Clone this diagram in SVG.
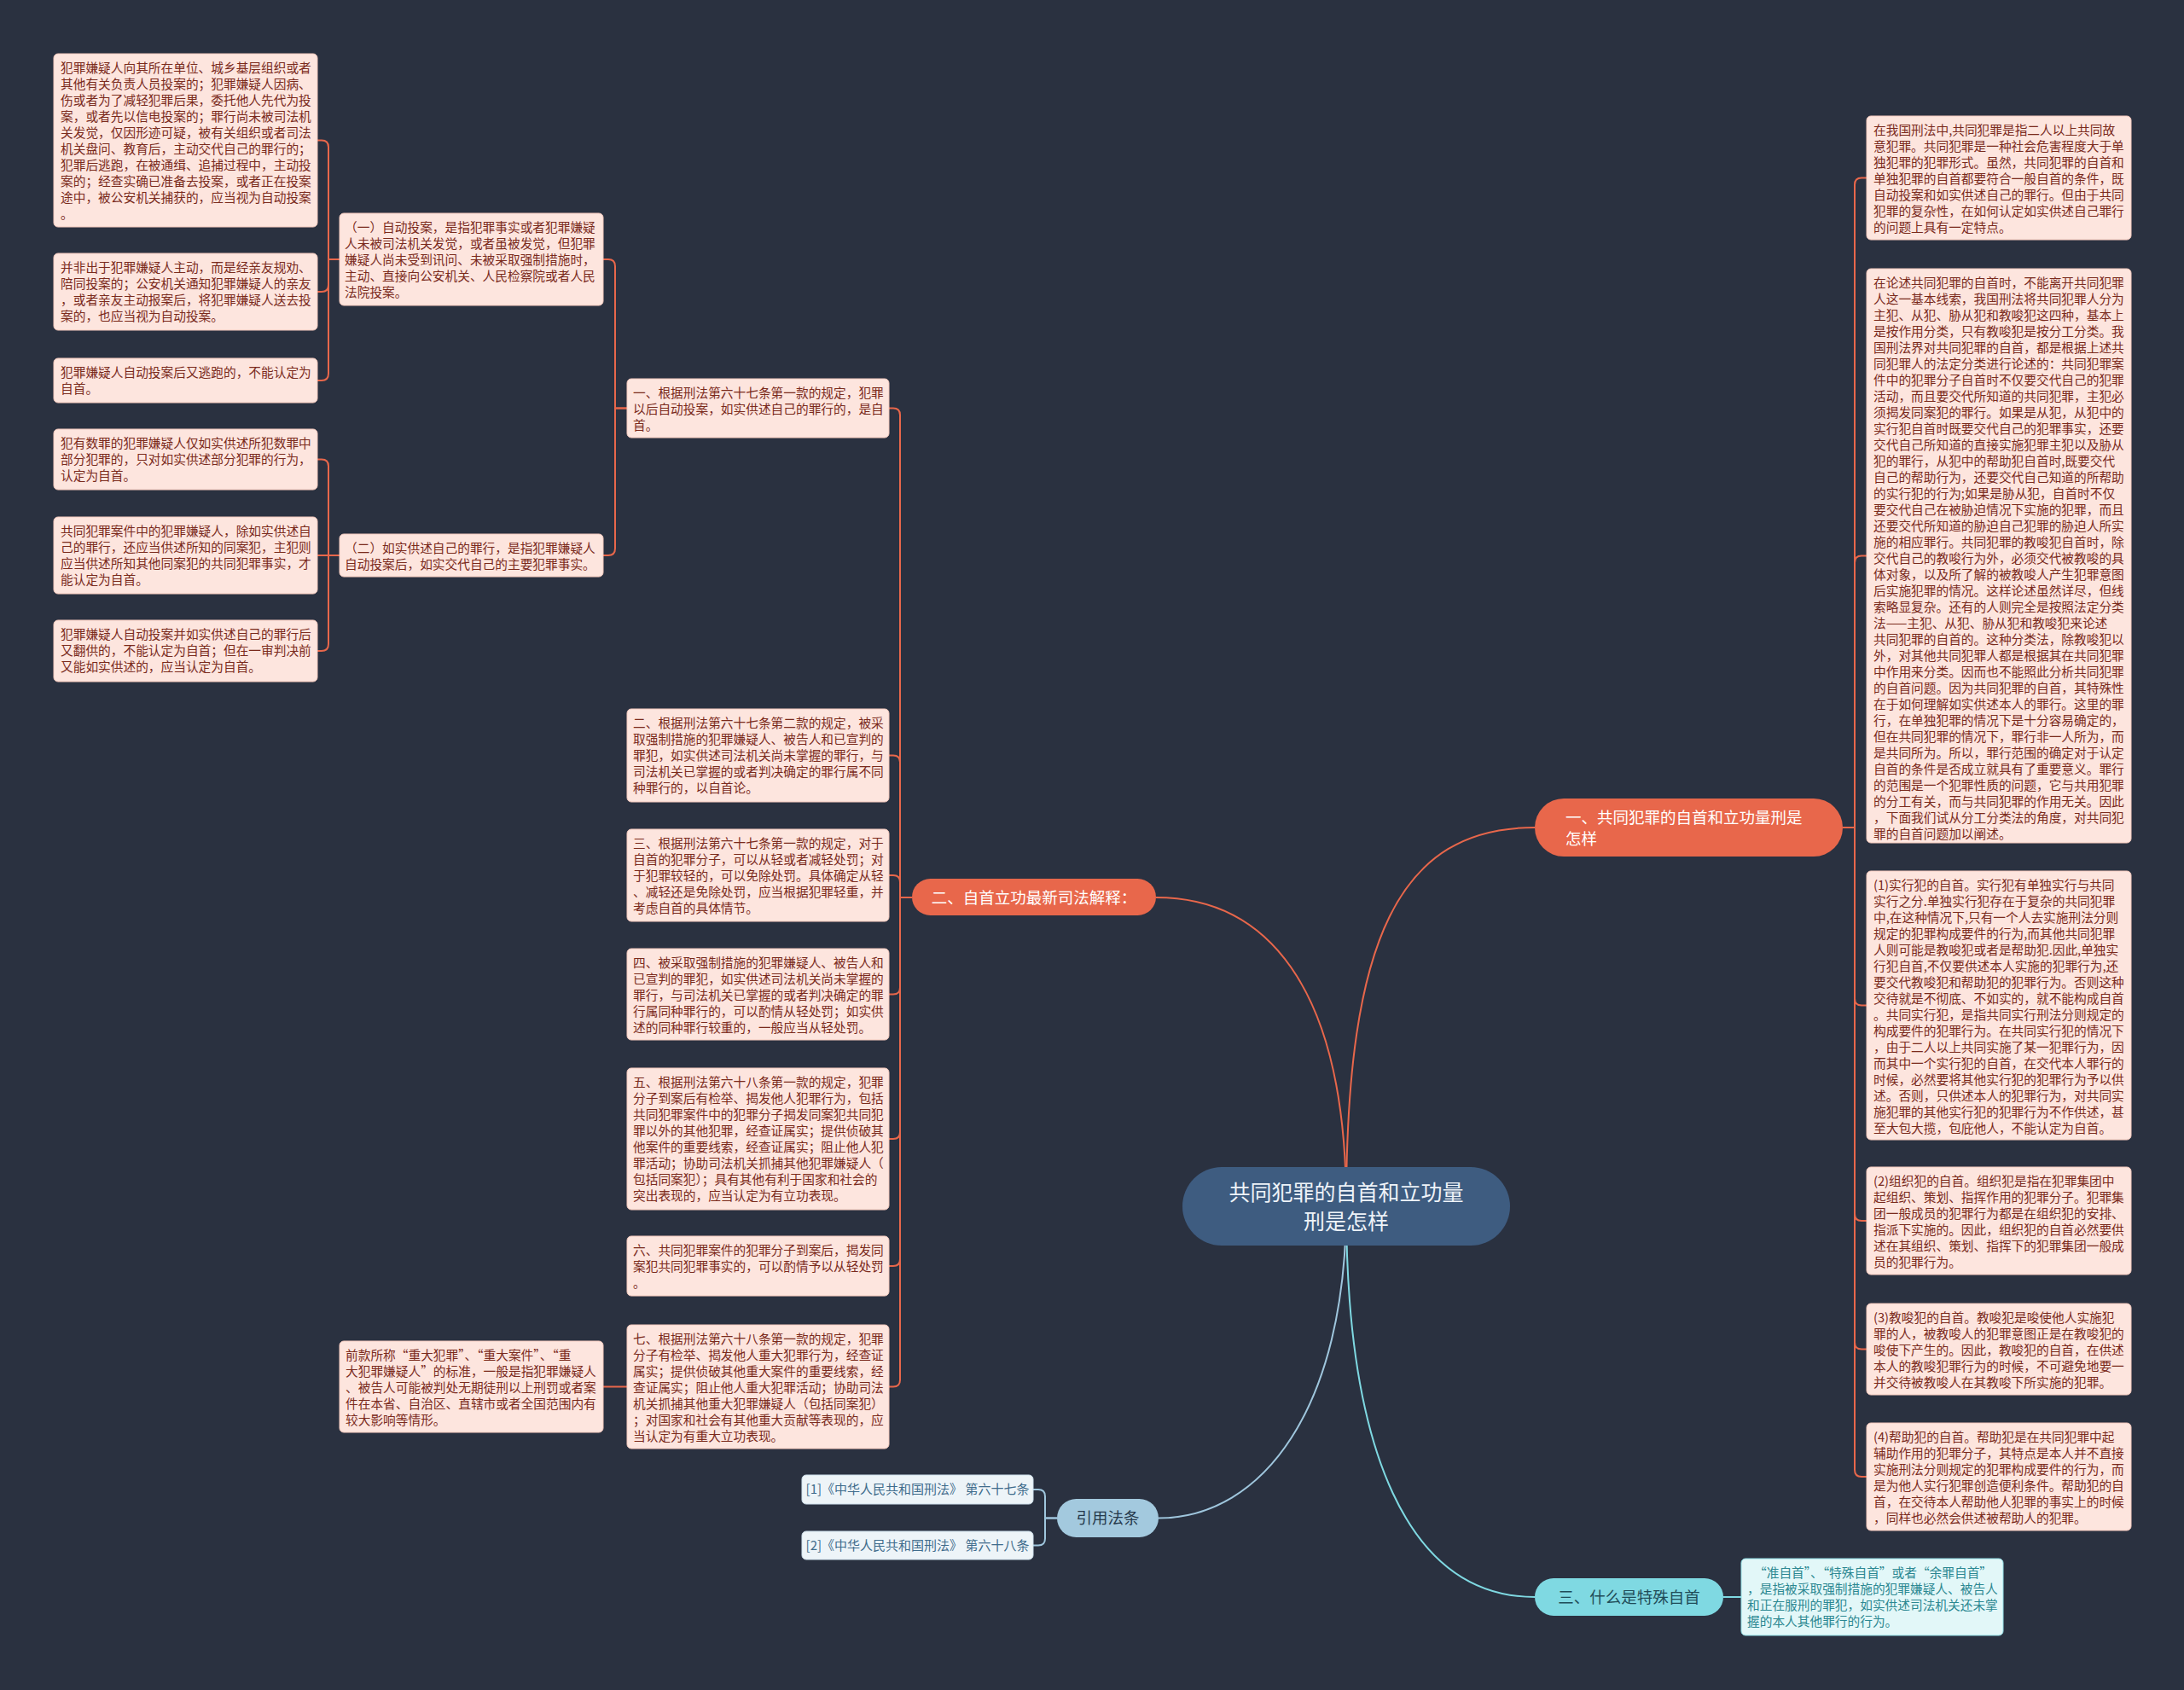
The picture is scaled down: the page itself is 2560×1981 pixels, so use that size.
<svg xmlns="http://www.w3.org/2000/svg" width="2560" height="1981" viewBox="0 0 2560 1981">
<style>
.bg{fill:#2a3140}
.leaf rect{fill:#fde5de;stroke:#f3c9bd;stroke-width:1}
.leaf text{font-family:"Noto Sans CJK SC","Liberation Sans",sans-serif;font-size:14.7px;fill:#7a2a1c}
.sp rect{fill:#e2f7f8;stroke:#8fdde4;stroke-width:1}
.sp text{font-family:"Noto Sans CJK SC","Liberation Sans",sans-serif;font-size:14.7px;fill:#2b8791}
.ref rect{fill:#edf4f8;stroke:#cfe1ec;stroke-width:1}
.ref text{font-family:"Noto Sans CJK SC","Liberation Sans",sans-serif;font-size:15px;fill:#3f6c8c}
.br rect{fill:#e8674b}
.br text{font-family:"Noto Sans CJK SC","Liberation Sans",sans-serif;font-size:18.5px;fill:#ffffff}
.c1{fill:none;stroke:#e8674b;stroke-width:2}
.c3{fill:none;stroke:#7fd9e2;stroke-width:2}
.c4{fill:none;stroke:#9fc6dd;stroke-width:2}
</style>
<rect class="bg" x="0" y="0" width="2560" height="1981"/>

<g id="connectors">
<path class="c1" d="M1578 1414 C1578 1100 1640 970 1799 970"/>
<path class="c1" d="M1578 1414 C1578 1150 1480 1052 1355 1052"/>
<path class="c3" d="M1578 1414 C1578 1700 1650 1872 1799 1872"/>
<path class="c4" d="M1578 1414 C1578 1650 1480 1779.5 1358 1779.5"/>
<!-- branch 1 children -->
<path class="c1" d="M2160 970 H2174 V216.5 Q2174 208.5 2182 208.5 H2188"/>
<path class="c1" d="M2160 970 H2174 V659.5 Q2174 651.5 2182 651.5 H2188"/>
<path class="c1" d="M2160 970 H2174 V1170.5 Q2174 1178.5 2182 1178.5 H2188"/>
<path class="c1" d="M2160 970 H2174 V1423 Q2174 1431 2182 1431 H2188"/>
<path class="c1" d="M2160 970 H2174 V1573.5 Q2174 1581.5 2182 1581.5 H2188"/>
<path class="c1" d="M2160 970 H2174 V1723 Q2174 1731 2182 1731 H2188"/>
<!-- branch 2 children -->
<path class="c1" d="M1069 1052 H1055 V486.5 Q1055 478.5 1047 478.5 H1042"/>
<path class="c1" d="M1069 1052 H1055 V893.5 Q1055 885.5 1047 885.5 H1042"/>
<path class="c1" d="M1069 1052 H1055 V1034 Q1055 1026 1047 1026 H1042"/>
<path class="c1" d="M1069 1052 H1055 V1157.5 Q1055 1165.5 1047 1165.5 H1042"/>
<path class="c1" d="M1069 1052 H1055 V1327 Q1055 1335 1047 1335 H1042"/>
<path class="c1" d="M1069 1052 H1055 V1476 Q1055 1484 1047 1484 H1042"/>
<path class="c1" d="M1069 1052 H1055 V1617.5 Q1055 1625.5 1047 1625.5 H1042"/>
<!-- N1 children -->
<path class="c1" d="M735 478.5 H721 V312 Q721 304 713 304 H707"/>
<path class="c1" d="M735 478.5 H721 V643 Q721 651 713 651 H707"/>
<!-- M1 children -->
<path class="c1" d="M398 304 H385 V172.5 Q385 164.5 377 164.5 H372"/>
<path class="c1" d="M398 304 H385 V334 Q385 342 377 342 H372"/>
<path class="c1" d="M398 304 H385 V438 Q385 446 377 446 H372"/>
<!-- M2 children -->
<path class="c1" d="M398 651 H385 V546.5 Q385 538.5 377 538.5 H372"/>
<path class="c1" d="M398 651 H372"/>
<path class="c1" d="M398 651 H385 V755 Q385 763 377 763 H372"/>
<!-- N7 child -->
<path class="c1" d="M735 1625.5 H707"/>
<!-- branch 3 child -->
<path class="c3" d="M2020 1872 H2041"/>
<!-- refs -->
<path class="c4" d="M1239 1779.5 H1225 V1754 Q1225 1746 1217 1746 H1211"/>
<path class="c4" d="M1239 1779.5 H1225 V1803.5 Q1225 1811.5 1217 1811.5 H1211"/>
</g>

<g id="center">
<rect x="1386" y="1368" width="384" height="92" rx="46" fill="#3e5c80"/>
<text font-family="Noto Sans CJK SC,Liberation Sans,sans-serif" font-size="25" fill="#eef3f8" text-anchor="middle"><tspan x="1578" y="1407">共同犯罪的自首和立功量</tspan><tspan x="1578" y="1441">刑是怎样</tspan></text>
</g>

<g id="branch1" class="br">
<rect x="1799" y="936" width="361" height="68" rx="34"/>
<text><tspan x="1835" y="965">一、共同犯罪的自首和立功量刑是</tspan><tspan x="1835" y="990">怎样</tspan></text>
</g>
<g id="branch2" class="br">
<rect x="1069" y="1030" width="286" height="43" rx="21.5"/>
<text text-anchor="middle" x="1212" y="1058.5">二、自首立功最新司法解释：</text>
</g>
<g id="branch3">
<rect x="1799" y="1850" width="221" height="44" rx="22" fill="#7fd9e2"/>
<text text-anchor="middle" x="1909.5" y="1878.5" font-family="Noto Sans CJK SC,Liberation Sans,sans-serif" font-size="18.5" fill="#1f4c58">三、什么是特殊自首</text>
</g>
<g id="branch4">
<rect x="1239" y="1757" width="119" height="45" rx="22.5" fill="#a3c9de"/>
<text text-anchor="middle" x="1298.5" y="1786" font-family="Noto Sans CJK SC,Liberation Sans,sans-serif" font-size="18.5" fill="#26394c">引用法条</text>
</g>

<g id="L1" class="leaf"><rect x="63" y="63" width="309" height="203" rx="5"/>
<text><tspan x="71" y="85">犯罪嫌疑人向其所在单位、城乡基层组织或者</tspan><tspan x="71" dy="19">其他有关负责人员投案的；犯罪嫌疑人因病、</tspan><tspan x="71" dy="19">伤或者为了减轻犯罪后果，委托他人先代为投</tspan><tspan x="71" dy="19">案，或者先以信电投案的；罪行尚未被司法机</tspan><tspan x="71" dy="19">关发觉，仅因形迹可疑，被有关组织或者司法</tspan><tspan x="71" dy="19">机关盘问、教育后，主动交代自己的罪行的；</tspan><tspan x="71" dy="19">犯罪后逃跑，在被通缉、追捕过程中，主动投</tspan><tspan x="71" dy="19">案的；经查实确已准备去投案，或者正在投案</tspan><tspan x="71" dy="19">途中，被公安机关捕获的，应当视为自动投案</tspan><tspan x="71" dy="19">。</tspan></text></g>

<g id="L2" class="leaf"><rect x="63" y="297" width="309" height="90" rx="5"/>
<text><tspan x="71" y="319">并非出于犯罪嫌疑人主动，而是经亲友规劝、</tspan><tspan x="71" dy="19">陪同投案的；公安机关通知犯罪嫌疑人的亲友</tspan><tspan x="71" dy="19">，或者亲友主动报案后，将犯罪嫌疑人送去投</tspan><tspan x="71" dy="19">案的，也应当视为自动投案。</tspan></text></g>

<g id="L3" class="leaf"><rect x="63" y="420" width="309" height="52" rx="5"/>
<text><tspan x="71" y="442">犯罪嫌疑人自动投案后又逃跑的，不能认定为</tspan><tspan x="71" dy="19">自首。</tspan></text></g>

<g id="L4" class="leaf"><rect x="63" y="503" width="309" height="71" rx="5"/>
<text><tspan x="71" y="525">犯有数罪的犯罪嫌疑人仅如实供述所犯数罪中</tspan><tspan x="71" dy="19">部分犯罪的，只对如实供述部分犯罪的行为，</tspan><tspan x="71" dy="19">认定为自首。</tspan></text></g>

<g id="L5" class="leaf"><rect x="63" y="606" width="309" height="90" rx="5"/>
<text><tspan x="71" y="628">共同犯罪案件中的犯罪嫌疑人，除如实供述自</tspan><tspan x="71" dy="19">己的罪行，还应当供述所知的同案犯，主犯则</tspan><tspan x="71" dy="19">应当供述所知其他同案犯的共同犯罪事实，才</tspan><tspan x="71" dy="19">能认定为自首。</tspan></text></g>

<g id="L6" class="leaf"><rect x="63" y="727" width="309" height="72" rx="5"/>
<text><tspan x="71" y="749">犯罪嫌疑人自动投案并如实供述自己的罪行后</tspan><tspan x="71" dy="19">又翻供的，不能认定为自首；但在一审判决前</tspan><tspan x="71" dy="19">又能如实供述的，应当认定为自首。</tspan></text></g>

<g id="M1" class="leaf"><rect x="398" y="250" width="309" height="108" rx="5"/>
<text><tspan x="404" y="272">（一）自动投案，是指犯罪事实或者犯罪嫌疑</tspan><tspan x="404" dy="19">人未被司法机关发觉，或者虽被发觉，但犯罪</tspan><tspan x="404" dy="19">嫌疑人尚未受到讯问、未被采取强制措施时，</tspan><tspan x="404" dy="19">主动、直接向公安机关、人民检察院或者人民</tspan><tspan x="404" dy="19">法院投案。</tspan></text></g>

<g id="M2" class="leaf"><rect x="398" y="626" width="309" height="50" rx="5"/>
<text><tspan x="404" y="648">（二）如实供述自己的罪行，是指犯罪嫌疑人</tspan><tspan x="404" dy="19">自动投案后，如实交代自己的主要犯罪事实。</tspan></text></g>

<g id="N1" class="leaf"><rect x="735" y="444" width="307" height="69" rx="5"/>
<text><tspan x="742" y="466">一、根据刑法第六十七条第一款的规定，犯罪</tspan><tspan x="742" dy="19">以后自动投案，如实供述自己的罪行的，是自</tspan><tspan x="742" dy="19">首。</tspan></text></g>

<g id="N2" class="leaf"><rect x="735" y="831" width="307" height="109" rx="5"/>
<text><tspan x="742" y="853">二、根据刑法第六十七条第二款的规定，被采</tspan><tspan x="742" dy="19">取强制措施的犯罪嫌疑人、被告人和已宣判的</tspan><tspan x="742" dy="19">罪犯，如实供述司法机关尚未掌握的罪行，与</tspan><tspan x="742" dy="19">司法机关已掌握的或者判决确定的罪行属不同</tspan><tspan x="742" dy="19">种罪行的，以自首论。</tspan></text></g>

<g id="N3" class="leaf"><rect x="735" y="972" width="307" height="108" rx="5"/>
<text><tspan x="742" y="994">三、根据刑法第六十七条第一款的规定，对于</tspan><tspan x="742" dy="19">自首的犯罪分子，可以从轻或者减轻处罚；对</tspan><tspan x="742" dy="19">于犯罪较轻的，可以免除处罚。具体确定从轻</tspan><tspan x="742" dy="19">、减轻还是免除处罚，应当根据犯罪轻重，并</tspan><tspan x="742" dy="19">考虑自首的具体情节。</tspan></text></g>

<g id="N4" class="leaf"><rect x="735" y="1112" width="307" height="107" rx="5"/>
<text><tspan x="742" y="1134">四、被采取强制措施的犯罪嫌疑人、被告人和</tspan><tspan x="742" dy="19">已宣判的罪犯，如实供述司法机关尚未掌握的</tspan><tspan x="742" dy="19">罪行，与司法机关已掌握的或者判决确定的罪</tspan><tspan x="742" dy="19">行属同种罪行的，可以酌情从轻处罚；如实供</tspan><tspan x="742" dy="19">述的同种罪行较重的，一般应当从轻处罚。</tspan></text></g>

<g id="N5" class="leaf"><rect x="735" y="1252" width="307" height="166" rx="5"/>
<text><tspan x="742" y="1274">五、根据刑法第六十八条第一款的规定，犯罪</tspan><tspan x="742" dy="19">分子到案后有检举、揭发他人犯罪行为，包括</tspan><tspan x="742" dy="19">共同犯罪案件中的犯罪分子揭发同案犯共同犯</tspan><tspan x="742" dy="19">罪以外的其他犯罪，经查证属实；提供侦破其</tspan><tspan x="742" dy="19">他案件的重要线索，经查证属实；阻止他人犯</tspan><tspan x="742" dy="19">罪活动；协助司法机关抓捕其他犯罪嫌疑人（</tspan><tspan x="742" dy="19">包括同案犯）；具有其他有利于国家和社会的</tspan><tspan x="742" dy="19">突出表现的，应当认定为有立功表现。</tspan></text></g>

<g id="N6" class="leaf"><rect x="735" y="1449" width="307" height="70" rx="5"/>
<text><tspan x="742" y="1471">六、共同犯罪案件的犯罪分子到案后，揭发同</tspan><tspan x="742" dy="19">案犯共同犯罪事实的，可以酌情予以从轻处罚</tspan><tspan x="742" dy="19">。</tspan></text></g>

<g id="N7" class="leaf"><rect x="735" y="1553" width="307" height="145" rx="5"/>
<text><tspan x="742" y="1575">七、根据刑法第六十八条第一款的规定，犯罪</tspan><tspan x="742" dy="19">分子有检举、揭发他人重大犯罪行为，经查证</tspan><tspan x="742" dy="19">属实；提供侦破其他重大案件的重要线索，经</tspan><tspan x="742" dy="19">查证属实；阻止他人重大犯罪活动；协助司法</tspan><tspan x="742" dy="19">机关抓捕其他重大犯罪嫌疑人（包括同案犯）</tspan><tspan x="742" dy="19">；对国家和社会有其他重大贡献等表现的，应</tspan><tspan x="742" dy="19">当认定为有重大立功表现。</tspan></text></g>

<g id="N7a" class="leaf"><rect x="398" y="1572" width="309" height="107" rx="5"/>
<text><tspan x="405" y="1594">前款所称“重大犯罪”、“重大案件”、“重</tspan><tspan x="405" dy="19">大犯罪嫌疑人”的标准，一般是指犯罪嫌疑人</tspan><tspan x="405" dy="19">、被告人可能被判处无期徒刑以上刑罚或者案</tspan><tspan x="405" dy="19">件在本省、自治区、直辖市或者全国范围内有</tspan><tspan x="405" dy="19">较大影响等情形。</tspan></text></g>

<g id="R1" class="leaf"><rect x="2188" y="136" width="310" height="145" rx="5"/>
<text><tspan x="2196" y="158">在我国刑法中,共同犯罪是指二人以上共同故</tspan><tspan x="2196" dy="19">意犯罪。共同犯罪是一种社会危害程度大于单</tspan><tspan x="2196" dy="19">独犯罪的犯罪形式。虽然，共同犯罪的自首和</tspan><tspan x="2196" dy="19">单独犯罪的自首都要符合一般自首的条件，既</tspan><tspan x="2196" dy="19">自动投案和如实供述自己的罪行。但由于共同</tspan><tspan x="2196" dy="19">犯罪的复杂性，在如何认定如实供述自己罪行</tspan><tspan x="2196" dy="19">的问题上具有一定特点。</tspan></text></g>

<g id="R2" class="leaf"><rect x="2188" y="315" width="310" height="673" rx="5"/>
<text><tspan x="2196" y="337">在论述共同犯罪的自首时，不能离开共同犯罪</tspan><tspan x="2196" dy="19">人这一基本线索，我国刑法将共同犯罪人分为</tspan><tspan x="2196" dy="19">主犯、从犯、胁从犯和教唆犯这四种，基本上</tspan><tspan x="2196" dy="19">是按作用分类，只有教唆犯是按分工分类。我</tspan><tspan x="2196" dy="19">国刑法界对共同犯罪的自首，都是根据上述共</tspan><tspan x="2196" dy="19">同犯罪人的法定分类进行论述的：共同犯罪案</tspan><tspan x="2196" dy="19">件中的犯罪分子自首时不仅要交代自己的犯罪</tspan><tspan x="2196" dy="19">活动，而且要交代所知道的共同犯罪，主犯必</tspan><tspan x="2196" dy="19">须揭发同案犯的罪行。如果是从犯，从犯中的</tspan><tspan x="2196" dy="19">实行犯自首时既要交代自己的犯罪事实，还要</tspan><tspan x="2196" dy="19">交代自己所知道的直接实施犯罪主犯以及胁从</tspan><tspan x="2196" dy="19">犯的罪行，从犯中的帮助犯自首时,既要交代</tspan><tspan x="2196" dy="19">自己的帮助行为，还要交代自己知道的所帮助</tspan><tspan x="2196" dy="19">的实行犯的行为;如果是胁从犯，自首时不仅</tspan><tspan x="2196" dy="19">要交代自己在被胁迫情况下实施的犯罪，而且</tspan><tspan x="2196" dy="19">还要交代所知道的胁迫自己犯罪的胁迫人所实</tspan><tspan x="2196" dy="19">施的相应罪行。共同犯罪的教唆犯自首时，除</tspan><tspan x="2196" dy="19">交代自己的教唆行为外，必须交代被教唆的具</tspan><tspan x="2196" dy="19">体对象，以及所了解的被教唆人产生犯罪意图</tspan><tspan x="2196" dy="19">后实施犯罪的情况。这样论述虽然详尽，但线</tspan><tspan x="2196" dy="19">索略显复杂。还有的人则完全是按照法定分类</tspan><tspan x="2196" dy="19">法——主犯、从犯、胁从犯和教唆犯来论述</tspan><tspan x="2196" dy="19">共同犯罪的自首的。这种分类法，除教唆犯以</tspan><tspan x="2196" dy="19">外，对其他共同犯罪人都是根据其在共同犯罪</tspan><tspan x="2196" dy="19">中作用来分类。因而也不能照此分析共同犯罪</tspan><tspan x="2196" dy="19">的自首问题。因为共同犯罪的自首，其特殊性</tspan><tspan x="2196" dy="19">在于如何理解如实供述本人的罪行。这里的罪</tspan><tspan x="2196" dy="19">行，在单独犯罪的情况下是十分容易确定的，</tspan><tspan x="2196" dy="19">但在共同犯罪的情况下，罪行非一人所为，而</tspan><tspan x="2196" dy="19">是共同所为。所以，罪行范围的确定对于认定</tspan><tspan x="2196" dy="19">自首的条件是否成立就具有了重要意义。罪行</tspan><tspan x="2196" dy="19">的范围是一个犯罪性质的问题，它与共用犯罪</tspan><tspan x="2196" dy="19">的分工有关，而与共同犯罪的作用无关。因此</tspan><tspan x="2196" dy="19">，下面我们试从分工分类法的角度，对共同犯</tspan><tspan x="2196" dy="19">罪的自首问题加以阐述。</tspan></text></g>

<g id="R3" class="leaf"><rect x="2188" y="1021" width="310" height="315" rx="5"/>
<text><tspan x="2196" y="1043">(1)实行犯的自首。实行犯有单独实行与共同</tspan><tspan x="2196" dy="19">实行之分.单独实行犯存在于复杂的共同犯罪</tspan><tspan x="2196" dy="19">中,在这种情况下,只有一个人去实施刑法分则</tspan><tspan x="2196" dy="19">规定的犯罪构成要件的行为,而其他共同犯罪</tspan><tspan x="2196" dy="19">人则可能是教唆犯或者是帮助犯.因此,单独实</tspan><tspan x="2196" dy="19">行犯自首,不仅要供述本人实施的犯罪行为,还</tspan><tspan x="2196" dy="19">要交代教唆犯和帮助犯的犯罪行为。否则这种</tspan><tspan x="2196" dy="19">交待就是不彻底、不如实的，就不能构成自首</tspan><tspan x="2196" dy="19">。共同实行犯，是指共同实行刑法分则规定的</tspan><tspan x="2196" dy="19">构成要件的犯罪行为。在共同实行犯的情况下</tspan><tspan x="2196" dy="19">，由于二人以上共同实施了某一犯罪行为，因</tspan><tspan x="2196" dy="19">而其中一个实行犯的自首，在交代本人罪行的</tspan><tspan x="2196" dy="19">时候，必然要将其他实行犯的犯罪行为予以供</tspan><tspan x="2196" dy="19">述。否则，只供述本人的犯罪行为，对共同实</tspan><tspan x="2196" dy="19">施犯罪的其他实行犯的犯罪行为不作供述，甚</tspan><tspan x="2196" dy="19">至大包大揽，包庇他人，不能认定为自首。</tspan></text></g>

<g id="R4" class="leaf"><rect x="2188" y="1368" width="310" height="126" rx="5"/>
<text><tspan x="2196" y="1390">(2)组织犯的自首。组织犯是指在犯罪集团中</tspan><tspan x="2196" dy="19">起组织、策划、指挥作用的犯罪分子。犯罪集</tspan><tspan x="2196" dy="19">团一般成员的犯罪行为都是在组织犯的安排、</tspan><tspan x="2196" dy="19">指派下实施的。因此，组织犯的自首必然要供</tspan><tspan x="2196" dy="19">述在其组织、策划、指挥下的犯罪集团一般成</tspan><tspan x="2196" dy="19">员的犯罪行为。</tspan></text></g>

<g id="R5" class="leaf"><rect x="2188" y="1528" width="310" height="107" rx="5"/>
<text><tspan x="2196" y="1550">(3)教唆犯的自首。教唆犯是唆使他人实施犯</tspan><tspan x="2196" dy="19">罪的人，被教唆人的犯罪意图正是在教唆犯的</tspan><tspan x="2196" dy="19">唆使下产生的。因此，教唆犯的自首，在供述</tspan><tspan x="2196" dy="19">本人的教唆犯罪行为的时候，不可避免地要一</tspan><tspan x="2196" dy="19">并交待被教唆人在其教唆下所实施的犯罪。</tspan></text></g>

<g id="R6" class="leaf"><rect x="2188" y="1668" width="310" height="126" rx="5"/>
<text><tspan x="2196" y="1690">(4)帮助犯的自首。帮助犯是在共同犯罪中起</tspan><tspan x="2196" dy="19">辅助作用的犯罪分子，其特点是本人并不直接</tspan><tspan x="2196" dy="19">实施刑法分则规定的犯罪构成要件的行为，而</tspan><tspan x="2196" dy="19">是为他人实行犯罪创造便利条件。帮助犯的自</tspan><tspan x="2196" dy="19">首，在交待本人帮助他人犯罪的事实上的时候</tspan><tspan x="2196" dy="19">，同样也必然会供述被帮助人的犯罪。</tspan></text></g>

<g id="S1" class="sp"><rect x="2041" y="1827" width="307" height="90" rx="5"/>
<text><tspan x="2056" y="1849">“准自首”、“特殊自首”或者“余罪自首”</tspan><tspan x="2048" dy="19">，是指被采取强制措施的犯罪嫌疑人、被告人</tspan><tspan x="2048" dy="19">和正在服刑的罪犯，如实供述司法机关还未掌</tspan><tspan x="2048" dy="19">握的本人其他罪行的行为。</tspan></text></g>

<g id="Ref1" class="ref"><rect x="940" y="1729" width="271" height="34" rx="5"/>
<text x="1075.5" y="1751" text-anchor="middle">[1]《中华人民共和国刑法》 第六十七条</text></g>
<g id="Ref2" class="ref"><rect x="940" y="1795" width="271" height="33" rx="5"/>
<text x="1075.5" y="1817" text-anchor="middle">[2]《中华人民共和国刑法》 第六十八条</text></g>
</svg>
